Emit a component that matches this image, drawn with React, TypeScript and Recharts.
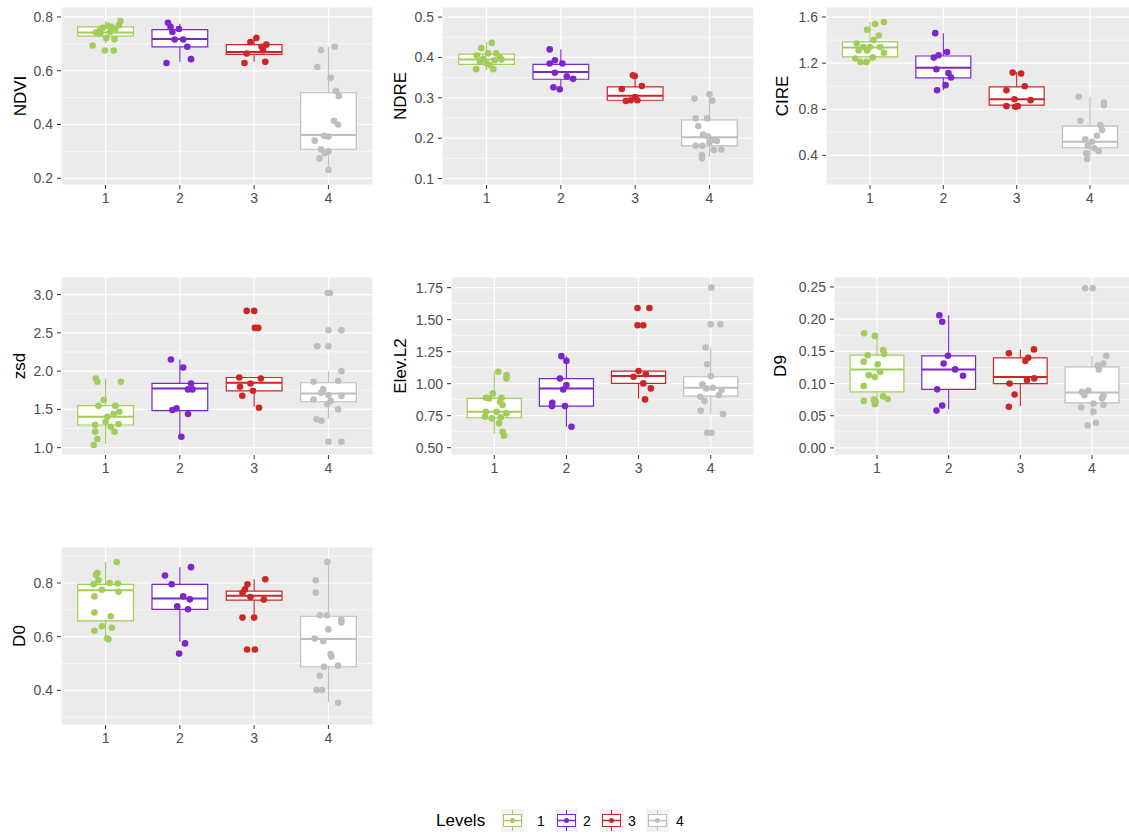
import { ComposedChart, Scatter, XAxis, YAxis, CartesianGrid, ReferenceArea, ReferenceLine } from 'recharts'

const levels = [1, 2, 3, 4]
const levelColors = ['#A2CD5A', '#7D26CD', '#CD2626', '#BEBEBE']

// box stats per level: [lower whisker, q1, median, q3, upper whisker]
// points per level: [jitter, value]

const ndviBoxes = [
  [0.701, 0.729, 0.742, 0.763, 0.785],
  [0.633, 0.689, 0.718, 0.753, 0.775],
  [0.633, 0.661, 0.67, 0.697, 0.72],
  [0.231, 0.308, 0.361, 0.518, 0.689],
]
const ndviPoints = [
  [[-0.175, 0.694], [-0.01, 0.675], [0.11, 0.675], [0.12, 0.717], [0.01, 0.722], [-0.13, 0.742], [-0.08, 0.75], [-0.035, 0.76], [0.03, 0.767], [0.08, 0.763], [0.13, 0.754], [0.18, 0.769], [0.2, 0.785], [-0.07, 0.738], [0.06, 0.744]],
  [[-0.16, 0.778], [-0.125, 0.763], [-0.1, 0.744], [-0.013, 0.755], [-0.07, 0.716], [0.045, 0.716], [0.1, 0.689], [0.15, 0.643], [-0.18, 0.629]],
  [[-0.13, 0.629], [0.15, 0.633], [-0.1, 0.664], [-0.05, 0.707], [0.03, 0.722], [0.12, 0.676], [0.165, 0.697], [0.1, 0.689]],
  [[-0.1, 0.676], [0.085, 0.689], [-0.15, 0.614], [0.03, 0.574], [0.1, 0.525], [0.14, 0.506], [0.075, 0.414], [0.13, 0.4], [-0.06, 0.358], [0, 0.355], [-0.185, 0.34], [-0.1, 0.308], [-0.05, 0.293], [0, 0.3], [-0.12, 0.274], [0, 0.231]],
]

const ndreBoxes = [
  [0.368, 0.383, 0.395, 0.408, 0.438],
  [0.323, 0.346, 0.364, 0.383, 0.42],
  [0.291, 0.294, 0.305, 0.327, 0.358],
  [0.154, 0.181, 0.202, 0.245, 0.311],
]
const ndrePoints = [
  [[0.07, 0.436], [-0.07, 0.423], [-0.13, 0.405], [0.13, 0.41], [0.02, 0.41], [-0.09, 0.389], [-0.14, 0.371], [0.09, 0.371], [0, 0.385], [0.11, 0.393], [0.2, 0.395], [-0.045, 0.397], [0.045, 0.381], [0.18, 0.401]],
  [[-0.15, 0.42], [-0.15, 0.385], [-0.08, 0.393], [0.02, 0.385], [-0.08, 0.362], [0.08, 0.353], [0.165, 0.347], [-0.1, 0.326], [-0.015, 0.321]],
  [[-0.03, 0.356], [-0.005, 0.354], [-0.18, 0.322], [0.09, 0.329], [-0.125, 0.292], [-0.06, 0.294], [0, 0.302], [0.03, 0.294]],
  [[0, 0.309], [-0.2, 0.298], [0.04, 0.293], [-0.185, 0.249], [-0.03, 0.249], [-0.15, 0.23], [-0.085, 0.209], [-0.02, 0.204], [0.03, 0.195], [0.1, 0.193], [-0.185, 0.181], [-0.095, 0.181], [0, 0.189], [0.06, 0.171], [0.16, 0.172], [-0.1, 0.158], [-0.1, 0.15]],
]

const cireBoxes = [
  [1.21, 1.254, 1.335, 1.384, 1.557],
  [0.965, 1.072, 1.159, 1.262, 1.46],
  [0.822, 0.836, 0.887, 0.994, 1.124],
  [0.389, 0.466, 0.518, 0.654, 0.908],
]
const cirePoints = [
  [[0.19, 1.557], [0.07, 1.54], [-0.04, 1.49], [0.12, 1.44], [0.05, 1.4], [-0.18, 1.37], [-0.09, 1.34], [0, 1.34], [0.14, 1.34], [-0.155, 1.31], [-0.04, 1.31], [0.19, 1.29], [-0.2, 1.24], [-0.13, 1.21], [-0.05, 1.21], [0.04, 1.25]],
  [[-0.11, 1.46], [0.05, 1.297], [-0.065, 1.268], [-0.13, 1.248], [-0.095, 1.147], [0.07, 1.115], [0.105, 1.075], [0.03, 1.009], [-0.085, 0.965]],
  [[-0.055, 1.118], [0.06, 1.11], [-0.14, 0.965], [0.11, 1.0], [-0.03, 0.887], [0.19, 0.879], [-0.14, 0.827], [-0.02, 0.822], [0.015, 0.827]],
  [[-0.155, 0.908], [0.19, 0.859], [0.19, 0.836], [-0.13, 0.7], [0.14, 0.663], [0.165, 0.619], [0.095, 0.57], [-0.065, 0.539], [0.03, 0.518], [-0.03, 0.484], [0.06, 0.461], [0.12, 0.438], [-0.05, 0.417], [-0.04, 0.368]],
]

const zsdBoxes = [
  [1.048, 1.296, 1.404, 1.548, 1.904],
  [1.143, 1.483, 1.774, 1.839, 2.152],
  [1.535, 1.743, 1.848, 1.917, 1.917],
  [1.383, 1.6, 1.709, 1.848, 2.0],
]
const zsdPoints = [
  [[-0.13, 1.904], [-0.11, 1.861], [0.205, 1.861], [-0.025, 1.622], [-0.095, 1.548], [0.13, 1.548], [0.185, 1.47], [0.11, 1.44], [0.025, 1.404], [-0.14, 1.3], [0, 1.339], [0.07, 1.274], [0.175, 1.309], [-0.14, 1.209], [0.12, 1.209], [-0.11, 1.113], [-0.16, 1.035]],
  [[-0.12, 2.152], [0.045, 2.048], [0.15, 1.839], [0.11, 1.761], [0.17, 1.761], [-0.1, 1.491], [-0.045, 1.513], [0.11, 1.44], [0.02, 1.143]],
  [[-0.1, 2.787], [0, 2.787], [0.01, 2.565], [0.055, 2.565], [-0.2, 1.917], [0.09, 1.904], [-0.19, 1.796], [-0.05, 1.839], [-0.015, 1.743], [-0.16, 1.678], [0.065, 1.522]],
  [[-0.01, 3.02], [0.02, 3.02], [0, 2.535], [0.175, 2.535], [-0.15, 2.326], [0, 2.326], [0.175, 2.0], [-0.2, 1.861], [0.13, 1.874], [-0.07, 1.761], [-0.1, 1.717], [0, 1.687], [0.175, 1.674], [-0.2, 1.63], [0.03, 1.613], [-0.015, 1.57], [0.13, 1.5], [-0.16, 1.37], [-0.095, 1.352], [0, 1.078], [0.175, 1.078]],
]

const elevBoxes = [
  [0.607, 0.734, 0.781, 0.885, 1.093],
  [0.664, 0.825, 0.963, 1.04, 1.215],
  [0.885, 1.002, 1.059, 1.098, 1.098],
  [0.768, 0.903, 0.968, 1.054, 1.282],
]
const elevPoints = [
  [[0.055, 1.093], [0.17, 1.067], [0.17, 1.04], [-0.02, 0.924], [-0.115, 0.89], [-0.07, 0.885], [0.1, 0.89], [0.08, 0.859], [0.115, 0.833], [-0.115, 0.78], [0.03, 0.78], [0.17, 0.768], [-0.13, 0.742], [-0.035, 0.729], [0.09, 0.737], [0.065, 0.69], [0.115, 0.625], [0.135, 0.593]],
  [[-0.07, 1.215], [0, 1.178], [-0.09, 1.04], [0, 0.989], [-0.045, 0.955], [-0.195, 0.851], [-0.2, 0.825], [-0.02, 0.825], [0.07, 0.664]],
  [[-0.015, 1.591], [0.15, 1.591], [-0.015, 1.456], [0.065, 1.456], [0, 1.098], [0.1, 1.074], [-0.07, 1.054], [0.065, 1.002], [0.17, 0.963], [0.09, 0.877]],
  [[0.01, 1.75], [0, 1.464], [0.135, 1.464], [-0.07, 1.282], [-0.05, 1.152], [0, 1.059], [-0.115, 0.996], [-0.06, 0.963], [0.03, 0.968], [0.15, 0.95], [0.115, 0.911], [-0.145, 0.898], [-0.085, 0.864], [-0.14, 0.789], [0.17, 0.763], [-0.05, 0.617], [0.01, 0.617]],
]

const d9Boxes = [
  [0.069, 0.087, 0.122, 0.144, 0.178],
  [0.06, 0.091, 0.122, 0.143, 0.206],
  [0.065, 0.1, 0.11, 0.14, 0.153],
  [0.049, 0.07, 0.086, 0.126, 0.143],
]
const d9Points = [
  [[-0.18, 0.178], [-0.03, 0.174], [0.085, 0.152], [-0.13, 0.144], [0.1, 0.146], [-0.185, 0.134], [0.01, 0.13], [0.045, 0.118], [-0.115, 0.113], [-0.03, 0.11], [-0.185, 0.096], [-0.185, 0.073], [-0.045, 0.075], [0.085, 0.08], [0.15, 0.076], [-0.03, 0.068], [-0.02, 0.072]],
  [[-0.13, 0.206], [-0.09, 0.196], [-0.01, 0.143], [-0.07, 0.131], [0.09, 0.122], [0.2, 0.112], [-0.16, 0.091], [-0.09, 0.066], [-0.17, 0.058]],
  [[-0.16, 0.147], [0.19, 0.153], [0.11, 0.14], [0.07, 0.135], [0.195, 0.108], [0.093, 0.105], [-0.15, 0.1], [-0.08, 0.083], [-0.16, 0.064]],
  [[-0.095, 0.248], [0.01, 0.248], [0.2, 0.143], [0.16, 0.131], [0.08, 0.128], [0.095, 0.122], [-0.14, 0.087], [-0.05, 0.089], [-0.107, 0.082], [0.16, 0.081], [0.14, 0.077], [0.02, 0.069], [0.16, 0.067], [-0.15, 0.063], [0.02, 0.056], [0.056, 0.039], [-0.06, 0.035]],
]

const d0Boxes = [
  [0.587, 0.659, 0.773, 0.795, 0.878],
  [0.581, 0.702, 0.742, 0.795, 0.859],
  [0.671, 0.736, 0.752, 0.77, 0.814],
  [0.358, 0.488, 0.591, 0.676, 0.878],
]
const d0Points = [
  [[0.15, 0.878], [-0.11, 0.837], [-0.13, 0.831], [-0.095, 0.81], [0.055, 0.8], [0.165, 0.798], [-0.16, 0.795], [-0.05, 0.775], [0.175, 0.767], [-0.15, 0.75], [-0.15, 0.69], [0.07, 0.676], [-0.05, 0.639], [0.085, 0.633], [-0.15, 0.622], [0.02, 0.593], [0.04, 0.59]],
  [[0.15, 0.859], [-0.2, 0.828], [-0.11, 0.795], [0.045, 0.75], [0.135, 0.739], [-0.035, 0.713], [0.11, 0.702], [0.07, 0.575], [-0.01, 0.537]],
  [[0.15, 0.814], [-0.09, 0.795], [-0.125, 0.776], [-0.157, 0.763], [-0.05, 0.748], [0.13, 0.738], [-0.157, 0.671], [0, 0.671], [-0.095, 0.552], [0.01, 0.552]],
  [[-0.015, 0.878], [-0.17, 0.81], [-0.17, 0.764], [-0.115, 0.68], [-0.02, 0.68], [0.175, 0.664], [0.175, 0.653], [0, 0.627], [-0.185, 0.593], [-0.07, 0.583], [0.03, 0.535], [0.04, 0.525], [-0.06, 0.488], [0.13, 0.492], [-0.117, 0.454], [-0.16, 0.401], [-0.085, 0.401], [0.13, 0.354]],
]

const panels = [
  { title: 'NDVI', boxes: ndviBoxes, points: ndviPoints, domain: [0.175, 0.837], ticks: [0.2, 0.4, 0.6, 0.8], minor: [0.3, 0.5, 0.7], digits: 1, left: 61, top: 7, width: 312, axisWidth: 82 },
  { title: 'NDRE', boxes: ndreBoxes, points: ndrePoints, domain: [0.084, 0.525], ticks: [0.1, 0.2, 0.3, 0.4, 0.5], minor: [0.15, 0.25, 0.35, 0.45], digits: 1, left: 442, top: 7, width: 312, axisWidth: 84 },
  { title: 'CIRE', boxes: cireBoxes, points: cirePoints, domain: [0.143, 1.687], ticks: [0.4, 0.8, 1.2, 1.6], minor: [0.2, 0.6, 1.0, 1.4], digits: 1, left: 826, top: 7, width: 308, axisWidth: 88 },
  { title: 'zsd', boxes: zsdBoxes, points: zsdPoints, domain: [0.904, 3.23], ticks: [1.0, 1.5, 2.0, 2.5, 3.0], minor: [1.25, 1.75, 2.25, 2.75], digits: 1, left: 61, top: 277, width: 312, axisWidth: 85 },
  { title: 'Elev.L2', boxes: elevBoxes, points: elevPoints, domain: [0.443, 1.833], ticks: [0.5, 0.75, 1.0, 1.25, 1.5, 1.75], minor: [0.625, 0.875, 1.125, 1.375, 1.625], digits: 2, left: 451, top: 277, width: 303, axisWidth: 102 },
  { title: 'D9', boxes: d9Boxes, points: d9Points, domain: [-0.011, 0.2655], ticks: [0, 0.05, 0.1, 0.15, 0.2, 0.25], minor: [0.025, 0.075, 0.125, 0.175, 0.225], digits: 2, left: 834, top: 277, width: 301, axisWidth: 109 },
  { title: 'D0', boxes: d0Boxes, points: d0Points, domain: [0.271, 0.934], ticks: [0.4, 0.6, 0.8], minor: [0.3, 0.5, 0.7, 0.9], digits: 1, left: 61, top: 547, width: 312, axisWidth: 85 },
]

const PLOT_H = 178
const HALF = 0.375

function Panel({ p }: { p: any }) {
  const boxEls: any[] = []
  p.boxes.forEach((b: number[], i: number) => {
    const g = levels[i]
    const c = levelColors[i]
    const [lo, q1, med, q3, hi] = b
    boxEls.push(
      <ReferenceLine key={`wl${i}`} segment={[{ x: g, y: lo }, { x: g, y: q1 }]} stroke={c} strokeWidth={1.1} />,
      <ReferenceLine key={`wh${i}`} segment={[{ x: g, y: q3 }, { x: g, y: hi }]} stroke={c} strokeWidth={1.1} />,
      <ReferenceArea key={`b${i}`} x1={g - HALF} x2={g + HALF} y1={q1} y2={q3} fill="#FFFFFF" fillOpacity={1} stroke={c} strokeWidth={1.2} />,
      <ReferenceLine key={`m${i}`} segment={[{ x: g - HALF, y: med }, { x: g + HALF, y: med }]} stroke={c} strokeWidth={2} />,
    )
  })

  return (
    <div style={{ position: 'absolute', left: p.left - p.axisWidth, top: p.top }}>
      <ComposedChart width={p.axisWidth + p.width} height={PLOT_H + 30} margin={{ top: 0, right: 0, bottom: 0, left: 0 }}>
        <CartesianGrid fill="#EBEBEB" stroke="#FFFFFF" strokeWidth={1.2} />
        <CartesianGrid horizontalValues={p.minor} vertical={false} stroke="#FFFFFF" strokeWidth={0.6} />
        <XAxis
          type="number"
          dataKey="x"
          domain={[0.4, 4.6]}
          ticks={levels}
          interval={0}
          allowDataOverflow
          axisLine={false}
          tickSize={4}
          tickMargin={4}
          height={30}
          tickLine={{ stroke: '#333333' }}
          tick={{ fill: '#4D4D4D', fontSize: 14 }}
        />
        <YAxis
          type="number"
          dataKey="y"
          domain={p.domain}
          ticks={p.ticks}
          interval={0}
          allowDataOverflow
          width={p.axisWidth}
          axisLine={false}
          tickSize={4}
          tickMargin={4}
          tickLine={{ stroke: '#333333' }}
          tick={{ fill: '#4D4D4D', fontSize: 14 }}
          tickFormatter={(v: number) => v.toFixed(p.digits)}
          label={{ value: p.title, angle: -90, position: 'center', fill: '#000000', fontSize: 17 }}
        />
        {boxEls}
        {p.points.map((pts: number[][], i: number) => (
          <Scatter
            key={`s${i}`}
            data={pts.map(([j, v]) => ({ x: levels[i] + j, y: v }))}
            isAnimationActive={false}
            shape={(s: any) => <circle cx={s.cx} cy={s.cy} r={3.3} fill={levelColors[i]} />}
          />
        ))}
      </ComposedChart>
    </div>
  )
}

function LegendKey({ color }: { color: string }) {
  return (
    <svg width={23} height={23} style={{ display: 'block' }}>
      <rect width={23} height={23} fill="#F2F2F2" />
      <line x1={11.5} x2={11.5} y1={1} y2={22} stroke={color} />
      <rect x={2.5} y={5.5} width={18} height={12} fill="#FFFFFF" stroke={color} />
      <line x1={2.5} x2={20.5} y1={11.5} y2={11.5} stroke={color} strokeWidth={1.5} />
      <circle cx={11.5} cy={11.5} r={2.5} fill={color} />
    </svg>
  )
}

const keyLefts = [501, 555, 600, 646]
const labelLefts = [537, 583, 628, 676]

export default function App() {
  return (
    <div
      style={{
        position: 'absolute',
        left: 0,
        top: 0,
        width: 1129,
        height: 834,
        overflow: 'hidden',
        background: '#FFFFFF',
        fontFamily: '"Liberation Sans", Arial, sans-serif',
      }}
    >
      {panels.map((p) => (
        <Panel key={p.title} p={p} />
      ))}
      <div style={{ position: 'absolute', left: 436, top: 811, fontSize: 17, color: '#000' }}>Levels</div>
      {levels.map((l, i) => (
        <div key={l}>
          <div style={{ position: 'absolute', left: keyLefts[i], top: 809 }}>
            <LegendKey color={levelColors[i]} />
          </div>
          <div style={{ position: 'absolute', left: labelLefts[i], top: 813, fontSize: 14, color: '#000' }}>{l}</div>
        </div>
      ))}
    </div>
  )
}
